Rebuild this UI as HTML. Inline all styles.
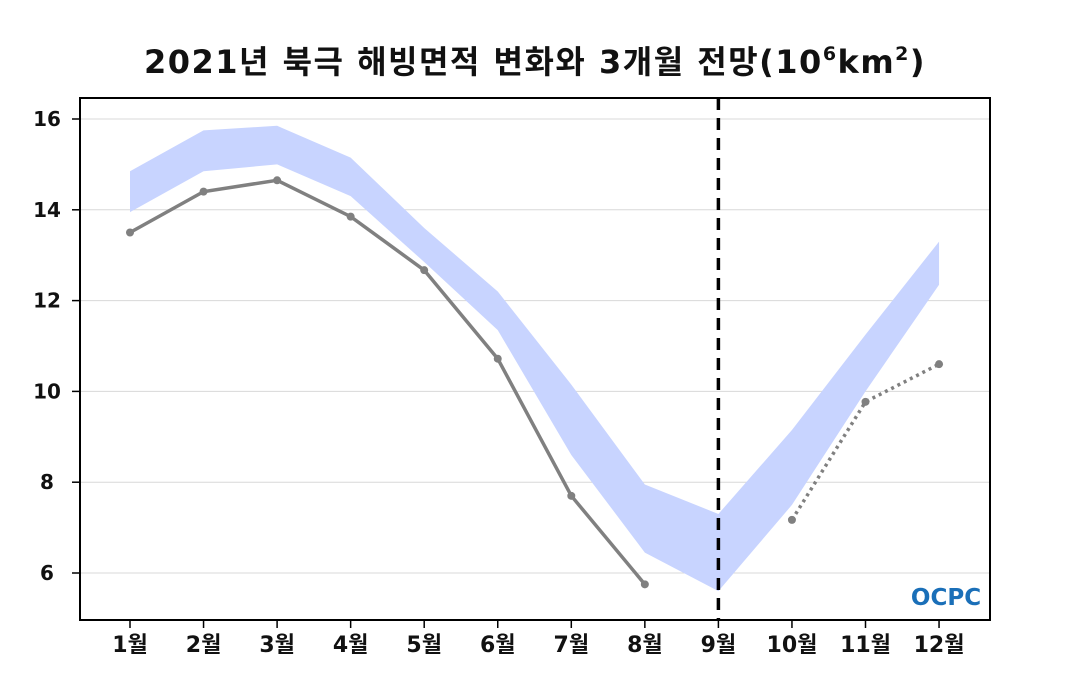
<!DOCTYPE html>
<html><head><meta charset="utf-8"><style>
html,body{margin:0;padding:0;background:#fff;}
svg{display:block;font-family:"DejaVu Sans","Noto Sans CJK KR",sans-serif;}
</style></head><body>
<svg id="chart" width="1070" height="700" xmlns="http://www.w3.org/2000/svg">
<text x="535" y="73" text-anchor="middle" font-size="32" font-weight="bold" fill="#111" letter-spacing="1.5">2021년 북극 해빙면적 변화와 3개월 전망(10<tspan font-size="19" dy="-13">6</tspan><tspan dy="13">km</tspan><tspan font-size="19" dy="-13">2</tspan><tspan dy="13">)</tspan></text>
<g id="grid"></g>
<g id="band"></g>
<g id="series"></g>
<rect x="80" y="98" width="910" height="522" fill="none" stroke="#000" stroke-width="2"/>
<g id="ticks"></g>
<g>
<text x="946" y="605" text-anchor="middle" font-size="23" font-weight="bold" fill="#1a6fb8">OCPC</text>
</g>
</svg>
<script>
const months=["1월","2월","3월","4월","5월","6월","7월","8월","9월","10월","11월","12월"];
const yTicks=[6,8,10,12,14,16];
const bandUpper=[14.85,15.75,15.85,15.15,13.6,12.2,10.15,7.95,7.3,9.15,11.25,13.3];
const bandLower=[13.95,14.85,15.0,14.3,12.85,11.35,8.6,6.45,5.6,7.5,10.0,12.35];
const observed=[13.5,14.4,14.65,13.85,12.67,10.72,7.7,5.75];
const forecastMonths=[10,11,12];
const forecast=[7.17,9.77,10.6];
const divideMonth=9;

const NS="http://www.w3.org/2000/svg";
const X=m=>130+(m-1)*73.55;
const Y=v=>119+(16-v)*45.4;
function mk(tag,parent,attrs){const e=document.createElementNS(NS,tag);for(const k in attrs)e.setAttribute(k,attrs[k]);parent.appendChild(e);return e;}
const grid=document.getElementById('grid'),band=document.getElementById('band'),series=document.getElementById('series'),ticks=document.getElementById('ticks');
yTicks.forEach(v=>{
  const l=mk('line',grid,{x1:80,x2:990,y1:Y(v),y2:Y(v),stroke:'#d8d8d8','stroke-width':1});
  
  
  const t=mk('line',ticks,{x1:72,x2:80,y1:Y(v),y2:Y(v),stroke:'#000','stroke-width':1.5});
  
  
  const tx=mk('text',ticks,{x:47,y:Y(v)+7,'text-anchor':'middle','font-size':20,'font-weight':'bold',fill:'#111'});
  tx.textContent=v;
  
  
});
months.forEach((m,i)=>{
  const t=mk('line',ticks,{x1:X(i+1),x2:X(i+1),y1:620,y2:628,stroke:'#000','stroke-width':1.5});
  
  
  const tx=mk('text',ticks,{x:X(i+1),y:652,'text-anchor':'middle','font-size':22,'font-weight':'bold',fill:'#111'});
  tx.textContent=m;
  
  
});
let pts=bandUpper.map((v,i)=>X(i+1)+','+Y(v));
for(let i=bandLower.length-1;i>=0;i--)pts.push(X(i+1)+','+Y(bandLower[i]));
const poly=mk('polygon',band,{points:pts.join(' '),fill:'#c8d4ff'});


const dv=mk('line',series,{x1:X(divideMonth),x2:X(divideMonth),y1:98,y2:620,stroke:'#000','stroke-width':3.5,'stroke-dasharray':'12,8'});


const ol=mk('polyline',series,{points:observed.map((v,i)=>X(i+1)+','+Y(v)).join(' '),fill:'none',stroke:'#808080','stroke-width':3.5});


observed.forEach((v,i)=>{const c=mk('circle',series,{cx:X(i+1),cy:Y(v),r:4,fill:'#808080'});
  
  });
const fl=mk('polyline',series,{points:forecast.map((v,i)=>X(forecastMonths[i])+','+Y(v)).join(' '),fill:'none',stroke:'#808080','stroke-width':3.5,'stroke-dasharray':'3,4'});


forecast.forEach((v,i)=>{const c=mk('circle',series,{cx:X(forecastMonths[i]),cy:Y(v),r:4,fill:'#808080'});
  
  });
</script>
</body></html>
